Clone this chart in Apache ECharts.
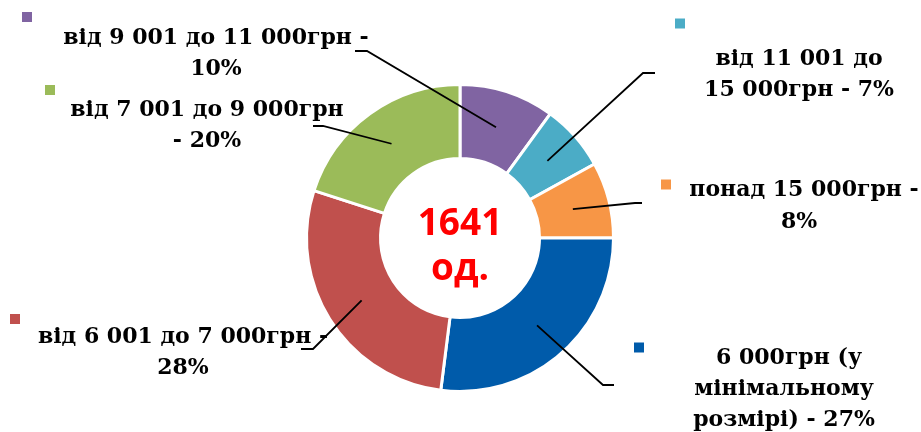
<!DOCTYPE html>
<html>
<head>
<meta charset="utf-8">
<script src="https://cdn.jsdelivr.net/npm/echarts@6/dist/echarts.min.js"></script>
<style>
  html, body { margin: 0; padding: 0; background: #ffffff; }
  #chart { width: 921px; height: 432px; }
</style>
</head>
<body>
<div id="chart"></div>
<script>
// ---- data ----
const categories = ['від 9 001 до 11 000грн', 'від 11 001 до 15 000грн', 'понад 15 000грн',
  '6 000грн (у мінімальному розмірі)', 'від 6 001 до 7 000грн', 'від 7 001 до 9 000грн'];
const shares = [10, 7, 8, 27, 28, 20];
// label text as wrapped in the picture; %P is replaced by the share
const labelLines = [
  ['від 9 001 до 11 000грн -', '%P'],
  ['від 11 001 до', '15 000грн - %P'],
  ['понад 15 000грн -', '%P'],
  ['6 000грн (у', 'мінімальному', 'розмірі) - %P'],
  ['від 6 001 до 7 000грн -', '%P'],
  ['від 7 001 до 9 000грн', '- %P']
];
const centerLines = ['1641', 'од.'];
const colors = ['#8064A2', '#4BACC6', '#F79646', '#005BAA', '#C0504D', '#9BBB59'];

// ---- layout ----
const PIE_CX = 460, PIE_CY = 238, R_IN = 81, R_OUT = 152, BORDER = 3;
const labelBoxes = [
  { left: 22,  top: 11,    width: 388, mark: 'own',    markH: 12 },
  { left: 675, top: 3.5,   width: 248, mark: 'own',    markH: 40 },
  { left: 661, top: 179.5, width: 276, mark: 'inline', lh: [21, 43] },
  { left: 634, top: 342.5, width: 300, mark: 'inline' },
  { left: 10,  top: 316.5, width: 346, mark: 'own',    markH: 5 },
  { left: 45,  top: 85.5,  width: 324, mark: 'own',    markH: 9 }
];
const leaderElbow = [[367, 51], [643, 73], [635, 203], [603, 385], [313, 349], [323, 126]];
const leaderEnd   = [[355, 51], [655, 73], [642, 203], [614, 385], [301, 349], [313, 126]];

const total = shares.reduce((a, b) => a + b, 0);
function leaderStart(i) {
  let before = 0;
  for (let k = 0; k < i; k++) before += shares[k];
  const mid = (before + shares[i] / 2) / total * Math.PI * 2; // clockwise from top
  const r = (R_IN + R_OUT) / 2;
  return [PIE_CX + r * Math.sin(mid), PIE_CY - r * Math.cos(mid)];
}

const textStyleBase = { fontFamily: 'DejaVu Serif', fontWeight: 'bold', fontSize: 22, color: '#000000', align: 'center' };

function buildLabel(i) {
  const b = labelBoxes[i];
  const lines = labelLines[i].map(s => s.replace('%P', shares[i] + '%'));
  const rich = {
    m: { width: 10, height: 10, backgroundColor: colors[i], align: 'left' },
    t: Object.assign({ lineHeight: 31 }, textStyleBase)
  };
  let fmt;
  if (b.mark === 'own') {
    rich.m.lineHeight = b.markH;
    fmt = '{m|}\n' + lines.map(s => '{t|' + s + '}').join('\n');
  } else {
    rich.m.verticalAlign = 'top';
    rich.m.lineHeight = 10;
    if (b.lh) {
      rich.ta = Object.assign({ lineHeight: b.lh[0] }, textStyleBase);
      rich.tb = Object.assign({ lineHeight: b.lh[1] }, textStyleBase);
      fmt = '{m|}{ta|' + lines[0] + '}\n' + lines.slice(1).map(s => '{tb|' + s + '}').join('\n');
    } else {
      fmt = '{m|}{t|' + lines[0] + '}\n' + lines.slice(1).map(s => '{t|' + s + '}').join('\n');
    }
  }
  return { show: true, position: 'outside', overflow: 'none', formatter: fmt, width: b.width, rich: rich };
}

const ringData = shares.map((v, i) => ({ name: categories[i], value: v, itemStyle: { color: colors[i] } }));
const labelData = shares.map((v, i) => ({ name: categories[i], value: v, label: buildLabel(i) }));

const pieCommon = {
  type: 'pie',
  center: [PIE_CX, PIE_CY],
  radius: [R_IN - BORDER / 2, R_OUT + BORDER / 2],
  startAngle: 90,
  clockwise: true,
  avoidLabelOverlap: false,
  silent: true,
  emphasis: { disabled: true }
};

const chart = echarts.init(document.getElementById('chart'), null, { renderer: 'canvas' });
chart.setOption({
  backgroundColor: '#ffffff',
  animation: false,
  series: [
    Object.assign({}, pieCommon, {
      z: 2,
      itemStyle: { borderColor: '#ffffff', borderWidth: BORDER },
      label: { show: false },
      labelLine: { show: false },
      data: ringData
    }),
    Object.assign({}, pieCommon, {
      z: 3,
      itemStyle: { color: 'rgba(0,0,0,0)', borderWidth: 0 },
      label: { show: true, position: 'outside' },
      labelLine: { show: true, smooth: false, lineStyle: { color: '#000000', width: 1.8 } },
      labelLayout: function (params) {
        const i = params.dataIndex;
        const b = labelBoxes[i];
        return {
          x: b.left + b.width / 2,
          y: b.top,
          align: 'center',
          verticalAlign: 'top',
          labelLinePoints: [leaderStart(i), leaderElbow[i], leaderEnd[i]]
        };
      },
      data: labelData
    })
  ],
  graphic: [{
    type: 'text',
    x: PIE_CX,
    y: 202,
    silent: true,
    style: {
      text: centerLines.join('\n'),
      align: 'center',
      verticalAlign: 'top',
      fill: '#FF0000',
      fontFamily: 'Open Sans',
      fontWeight: 'bold',
      fontSize: 37,
      lineHeight: 45
    }
  }]
});
</script>
</body>
</html>
